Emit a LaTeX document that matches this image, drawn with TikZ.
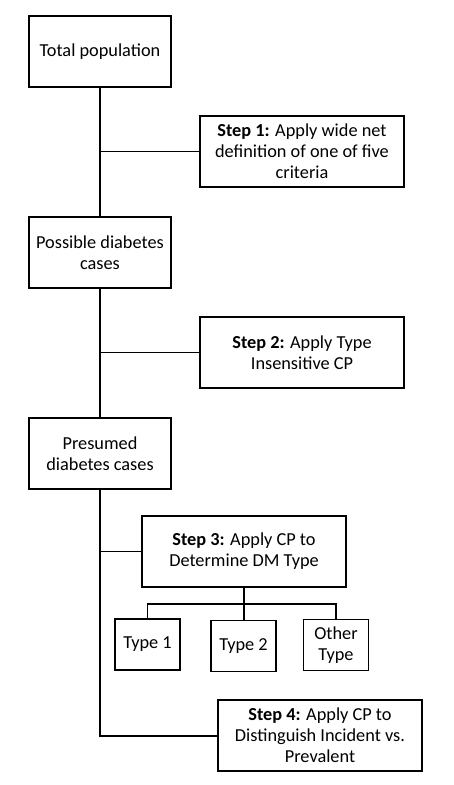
\documentclass[tikz,border=0pt]{standalone}
\usepackage{fontspec}
\setmainfont{Carlito}
\begin{document}
\begin{tikzpicture}[x=1pt, y=-1pt,
	box/.style={draw=black, line width=1.5pt, minimum width=142pt, minimum height=71pt, align=center, inner sep=0pt, font=\fontsize{18.3}{21}\selectfont},
	stepbox/.style={box, minimum width=204pt},
	typebox/.style={box, minimum width=65pt, minimum height=51pt},
	trunk/.style={line width=2pt},
	branch/.style={line width=1.2pt}]
	\useasboundingbox (0, 0) rectangle (453, 785);

	\node[box] (total) at (100, 51.5) {Total population};
	\node[stepbox] (step-1) at (302, 151.5) {\textbf{Step 1:} Apply wide net\\definition of one of five\\criteria};
	\node[box] (possible) at (100, 252.5) {Possible diabetes\\cases};
	\node[stepbox] (step-2) at (302, 352.5) {\textbf{Step 2:} Apply Type\\Insensitive CP};
	\node[box] (presumed) at (100, 453.5) {Presumed\\diabetes cases};

	\draw[trunk] (total) -- (possible);
	\draw[branch] (total.south |- step-1.west) -- (step-1.west);
	\draw[trunk] (possible) -- (presumed);
	\draw[branch] (possible.south |- step-2.west) -- (step-2.west);

	\node[stepbox] (step-3) at (244, 551.5) {\textbf{Step 3:} Apply CP to\\Determine DM Type};
	\node[typebox] (type-1) at (147.5, 644.5) {Type 1};
	\node[typebox] (type-2) at (243.5, 646) {Type 2};
	\node[typebox] (type-other) at (336, 645) {Other\\Type};
	\node[stepbox] (step-4) at (320, 735.5) {\textbf{Step 4:} Apply CP to\\Distinguish Incident vs.\\Prevalent};

	\coordinate (bar) at (244, 604);
	\draw[trunk] (presumed.south) |- (step-4.west);
	\draw[branch] (presumed.south |- step-3.west) -- (step-3.west);
	\draw[trunk] (step-3.south) -- (bar);
	\draw[branch] (type-1.north) |- (bar) -| (type-other.north);
	\draw[branch] (bar) -- (bar |- type-2.north);
\end{tikzpicture}
\end{document}
